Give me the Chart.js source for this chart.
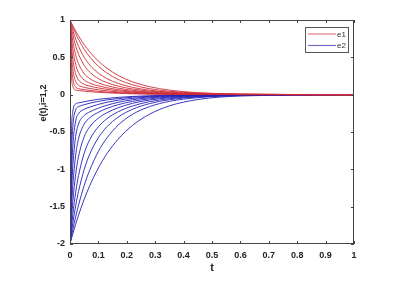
<!DOCTYPE html>
<html>
<head>
<meta charset="utf-8">
<script src="https://cdn.jsdelivr.net/npm/chart.js@4.4.0/dist/chart.umd.min.js"></script>
<style>
  html, body { margin: 0; padding: 0; background: #fff; }
  #wrap { width: 416px; height: 288px; }
</style>
</head>
<body>
<div id="wrap"><canvas id="grafico"></canvas></div>
<script>
// sample times (t) read along the x axis
const tiempos = [0, 0.005, 0.01, 0.02, 0.03, 0.05, 0.07, 0.1, 0.13, 0.17, 0.22, 0.28, 0.35, 0.45, 0.6, 1];

// e1 curves (red), innermost first
const e1a = [1, 0.275, 0.111, 0.062, 0.055, 0.047, 0.040, 0.031, 0.025, 0.018, 0.012, 0.007, 0.004, 0.002, 0.001, 0];
const e1b = [1, 0.427, 0.214, 0.102, 0.081, 0.067, 0.057, 0.045, 0.035, 0.026, 0.017, 0.011, 0.006, 0.003, 0.001, 0];
const e1c = [1, 0.564, 0.345, 0.176, 0.127, 0.098, 0.083, 0.065, 0.051, 0.037, 0.025, 0.015, 0.009, 0.004, 0.001, 0];
const e1d = [1, 0.677, 0.479, 0.279, 0.197, 0.139, 0.115, 0.090, 0.071, 0.051, 0.034, 0.021, 0.012, 0.005, 0.002, 0];
const e1e = [1, 0.771, 0.608, 0.404, 0.295, 0.197, 0.154, 0.118, 0.092, 0.067, 0.045, 0.028, 0.016, 0.007, 0.002, 0];
const e1f = [1, 0.841, 0.714, 0.533, 0.415, 0.282, 0.214, 0.157, 0.121, 0.087, 0.058, 0.036, 0.021, 0.009, 0.003, 0];
const e1g = [1, 0.893, 0.801, 0.653, 0.542, 0.392, 0.300, 0.215, 0.161, 0.114, 0.076, 0.047, 0.027, 0.012, 0.004, 0];
const e1h = [1, 0.926, 0.860, 0.744, 0.648, 0.501, 0.396, 0.288, 0.215, 0.150, 0.098, 0.060, 0.034, 0.015, 0.005, 0];
const e1i = [1, 0.950, 0.903, 0.817, 0.740, 0.608, 0.503, 0.380, 0.290, 0.203, 0.132, 0.080, 0.045, 0.020, 0.006, 0];
const e1j = [1, 0.961, 0.923, 0.852, 0.787, 0.670, 0.571, 0.449, 0.354, 0.257, 0.172, 0.107, 0.061, 0.027, 0.008, 0];

// e2 curves (blue), innermost first
const e2a = [-2, -0.550, -0.222, -0.124, -0.110, -0.094, -0.080, -0.062, -0.050, -0.036, -0.024, -0.014, -0.008, -0.004, -0.002, 0];
const e2b = [-2, -0.854, -0.428, -0.204, -0.162, -0.134, -0.114, -0.090, -0.070, -0.052, -0.034, -0.022, -0.012, -0.006, -0.002, 0];
const e2c = [-2, -1.128, -0.690, -0.352, -0.254, -0.196, -0.166, -0.130, -0.102, -0.074, -0.050, -0.030, -0.018, -0.008, -0.002, 0];
const e2d = [-2, -1.354, -0.958, -0.558, -0.394, -0.278, -0.230, -0.180, -0.142, -0.102, -0.068, -0.042, -0.024, -0.010, -0.004, 0];
const e2e = [-2, -1.542, -1.216, -0.808, -0.590, -0.394, -0.308, -0.236, -0.184, -0.134, -0.090, -0.056, -0.032, -0.014, -0.004, 0];
const e2f = [-2, -1.682, -1.428, -1.066, -0.830, -0.564, -0.428, -0.314, -0.242, -0.174, -0.116, -0.072, -0.042, -0.018, -0.006, 0];
const e2g = [-2, -1.786, -1.602, -1.306, -1.084, -0.784, -0.600, -0.430, -0.322, -0.228, -0.152, -0.094, -0.054, -0.024, -0.008, 0];
const e2h = [-2, -1.852, -1.720, -1.488, -1.296, -1.002, -0.792, -0.576, -0.430, -0.300, -0.196, -0.120, -0.068, -0.030, -0.010, 0];
const e2i = [-2, -1.900, -1.806, -1.634, -1.480, -1.216, -1.006, -0.760, -0.580, -0.406, -0.264, -0.160, -0.090, -0.040, -0.012, 0];
const e2j = [-2, -1.930, -1.862, -1.734, -1.615, -1.400, -1.214, -0.982, -0.790, -0.594, -0.412, -0.262, -0.150, -0.065, -0.018, 0];

const curvasE1 = [e1a, e1b, e1c, e1d, e1e, e1f, e1g, e1h, e1i, e1j];
const curvasE2 = [e2a, e2b, e2c, e2d, e2e, e2f, e2g, e2h, e2i, e2j];

const ticksX = [0, 0.1, 0.2, 0.3, 0.4, 0.5, 0.6, 0.7, 0.8, 0.9, 1];
const ticksY = [-2, -1.5, -1, -0.5, 0, 0.5, 1];
const leyenda = ['e1', 'e2'];
const tituloX = 't';
const tituloY = 'e(t),i=1,2';

const rojo = 'rgb(205, 45, 55)';
const azul = 'rgb(35, 30, 185)';

function armarDataset(valores, color) {
  return {
    data: tiempos.map((t, i) => ({ x: t, y: valores[i] })),
    borderColor: color,
    borderWidth: 0.9,
    pointRadius: 0,
    fill: false,
    cubicInterpolationMode: 'monotone'
  };
}

const datasets = [];
curvasE1.forEach(c => datasets.push(armarDataset(c, rojo)));
curvasE2.forEach(c => datasets.push(armarDataset(c, azul)));

const fuenteTicks = { family: 'Liberation Sans', size: 9, weight: 'bold' };

// box, inward ticks, y title and legend (MATLAB look)
const extras = {
  id: 'extras',
  afterDraw(chart) {
    const ctx = chart.ctx;
    const a = chart.chartArea;
    const sx = chart.scales.x;
    const sy = chart.scales.y;
    ctx.save();
    ctx.strokeStyle = '#444';
    ctx.lineWidth = 1;
    ctx.strokeRect(a.left + 0.5, a.top + 0.5, a.right - a.left - 1, a.bottom - a.top - 1);
    ctx.beginPath();
    ticksX.forEach(v => {
      const px = Math.round(sx.getPixelForValue(v)) + 0.5;
      ctx.moveTo(px, a.bottom); ctx.lineTo(px, a.bottom - 3);
      ctx.moveTo(px, a.top); ctx.lineTo(px, a.top + 3);
    });
    ticksY.forEach(v => {
      const py = Math.round(sy.getPixelForValue(v)) + 0.5;
      ctx.moveTo(a.left, py); ctx.lineTo(a.left + 3, py);
      ctx.moveTo(a.right, py); ctx.lineTo(a.right - 3, py);
    });
    ctx.stroke();

    // y title
    ctx.fillStyle = '#222';
    ctx.font = 'bold 9px "Liberation Sans"';
    ctx.textAlign = 'center';
    ctx.textBaseline = 'middle';
    ctx.translate(44, 103);
    ctx.rotate(-Math.PI / 2);
    ctx.fillText(tituloY, 0, 0);
    ctx.setTransform(1, 0, 0, 1, 0, 0);

    // legend
    const lx = 305, ly = 27, lw = 43, lh = 25;
    ctx.fillStyle = '#fff';
    ctx.fillRect(lx, ly, lw, lh);
    ctx.strokeStyle = '#555';
    ctx.strokeRect(lx + 0.5, ly + 0.5, lw, lh);
    const colores = ['rgb(225, 120, 125)', 'rgb(115, 110, 200)'];
    leyenda.forEach((txt, i) => {
      const y = ly + 7 + i * 11.5;
      ctx.strokeStyle = colores[i];
      ctx.lineWidth = 1.2;
      ctx.beginPath();
      ctx.moveTo(lx + 3, y); ctx.lineTo(lx + 31, y);
      ctx.stroke();
      ctx.fillStyle = '#333';
      ctx.font = '8px "Liberation Sans"';
      ctx.textAlign = 'left';
      ctx.fillText(txt, lx + 32, y + 0.5);
    });
    ctx.restore();
  }
};

new Chart(document.getElementById('grafico'), {
  type: 'line',
  data: { datasets: datasets },
  plugins: [extras],
  options: {
    responsive: true,
    maintainAspectRatio: false,
    animation: false,
    events: [],
    layout: { padding: { left: 0, right: 62, top: 20, bottom: 0 } },
    plugins: { legend: { display: false }, tooltip: { enabled: false } },
    scales: {
      x: {
        type: 'linear',
        min: 0, max: 1,
        afterFit: s => { s.height = 44; },
        afterBuildTicks: s => { s.ticks = ticksX.map(v => ({ value: v })); },
        grid: { display: false, drawTicks: false },
        border: { display: false },
        ticks: {
          padding: 6,
          color: '#222',
          font: fuenteTicks,
          maxRotation: 0,
          callback: v => String(v)
        },
        title: {
          display: true,
          text: tituloX,
          color: '#222',
          font: { family: 'Liberation Sans', size: 11, weight: 'bold' },
          padding: { top: 0, bottom: 13 }
        }
      },
      y: {
        min: -2, max: 1,
        afterFit: s => { s.width = 70; },
        afterBuildTicks: s => { s.ticks = ticksY.map(v => ({ value: v })); },
        grid: { display: false, drawTicks: false },
        border: { display: false },
        ticks: {
          padding: 5,
          color: '#222',
          font: fuenteTicks,
          callback: v => String(v)
        }
      }
    }
  }
});
</script>
</body>
</html>
